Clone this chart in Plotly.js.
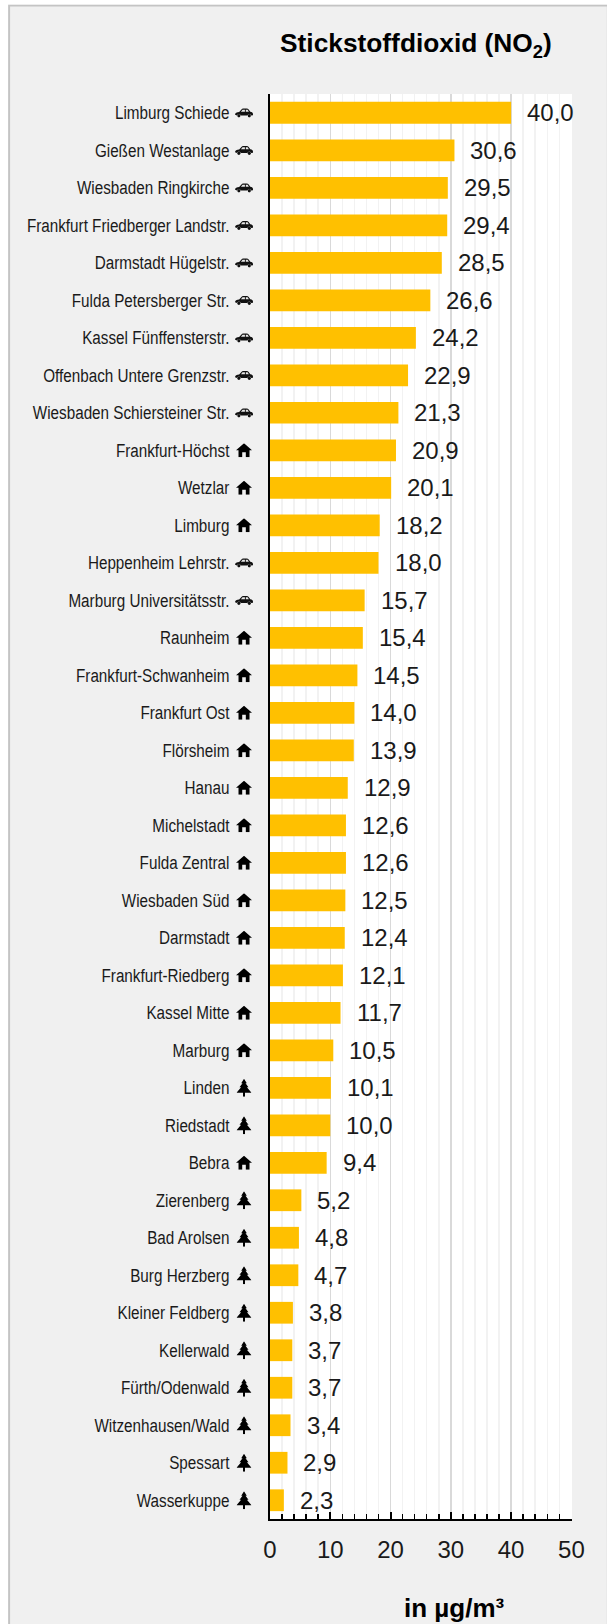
<!DOCTYPE html>
<html><head><meta charset="utf-8">
<script src="https://cdn.plot.ly/plotly-3.0.1.min.js"></script>
<style>html,body{margin:0;padding:0;background:#fff}#c{width:607px;height:1624px}</style>
</head><body><div id="c"></div>
<script>
const stations = ["Limburg Schiede","Gießen Westanlage","Wiesbaden Ringkirche","Frankfurt Friedberger Landstr.","Darmstadt Hügelstr.","Fulda Petersberger Str.","Kassel Fünffensterstr.","Offenbach Untere Grenzstr.","Wiesbaden Schiersteiner Str.","Frankfurt-Höchst","Wetzlar","Limburg","Heppenheim Lehrstr.","Marburg Universitätsstr.","Raunheim","Frankfurt-Schwanheim","Frankfurt Ost","Flörsheim","Hanau","Michelstadt","Fulda Zentral","Wiesbaden Süd","Darmstadt","Frankfurt-Riedberg","Kassel Mitte","Marburg","Linden","Riedstadt","Bebra","Zierenberg","Bad Arolsen","Burg Herzberg","Kleiner Feldberg","Kellerwald","Fürth/Odenwald","Witzenhausen/Wald","Spessart","Wasserkuppe"];
const no2 = [40.0,30.6,29.5,29.4,28.5,26.6,24.2,22.9,21.3,20.9,20.1,18.2,18.0,15.7,15.4,14.5,14.0,13.9,12.9,12.6,12.6,12.5,12.4,12.1,11.7,10.5,10.1,10.0,9.4,5.2,4.8,4.7,3.8,3.7,3.7,3.4,2.9,2.3];
const kinds = ["car","car","car","car","car","car","car","car","car","home","home","home","car","car","home","home","home","home","home","home","home","home","home","home","home","home","tree","tree","home","tree","tree","tree","tree","tree","tree","tree","tree","tree"];
const icons = {
 car:'<svg xmlns="http://www.w3.org/2000/svg" viewBox="0 0 20 10"><path fill="#111" d="M0 7 C0 5 2 4.6 4.6 4.2 L7.4 1.4 C8 .9 9 .8 10 .8 L13 .8 C14 .8 14.6 1.2 15.2 1.8 L17 4 C19 4.4 20 5 20 6.2 L20 7.6 L18 7.8 A2.2 2.2 0 0 0 13.8 7.8 L6.4 7.8 A2.2 2.2 0 0 0 2.2 7.8 Z"/><path fill="#e8e8e8" d="M6.6 4 L8.4 2 L11 2 L11 4 Z M12 2 L14 2 L15.4 4 L12 4 Z"/><circle cx="4.3" cy="8" r="1.7" fill="#111"/><circle cx="15.9" cy="8" r="1.7" fill="#111"/></svg>',
 home:'<svg xmlns="http://www.w3.org/2000/svg" viewBox="0 0 16 14"><path fill="#000" d="M8 0 L16 7 L13.5 7 L13.5 14 L9.8 14 L9.8 9 L6.2 9 L6.2 14 L2.5 14 L2.5 7 L0 7 Z"/></svg>',
 tree:'<svg xmlns="http://www.w3.org/2000/svg" viewBox="0 0 15 18"><path fill="#000" d="M7.5 0 L10.3 4.4 L9 4.4 L12 8.6 L10.4 8.6 L15 14 L8.5 14 L8.5 18 L6.5 18 L6.5 14 L0 14 L4.6 8.6 L3 8.6 L6 4.4 L4.7 4.4 Z"/></svg>'
};
const iconSize = {car:[18,10],home:[16,14],tree:[15,18]};
const L=270,R=572.1,T=94,B=1519,W=607,H=1624;
const px = v => (v-L)/(R-L);
const py = v => (B-v)/(B-T);
const images = stations.map((s,i)=>{
  const k=kinds[i], sz=iconSize[k];
  return {source:'data:image/svg+xml;utf8,'+encodeURIComponent(icons[k]),xref:'paper',yref:'y',
    x:px(244),y:s,sizex:sz[0]/(R-L),sizey:sz[1]/((B-T)/stations.length),sizing:'stretch',
    xanchor:'center',yanchor:'middle',layer:'above'};
});
const valueLabels = stations.map((s,i)=>({x:no2[i],y:s,xref:'x',yref:'y',text:no2[i].toFixed(1).replace('.',','),
  showarrow:false,xanchor:'left',yanchor:'middle',xshift:14,font:{family:'"Liberation Sans",Arial,sans-serif',size:24,color:'#1a1a1a'}}));
valueLabels.push({xref:'paper',yref:'paper',x:px(455),y:py(1608),text:'<b>in µg/m³</b>',showarrow:false,xanchor:'center',yanchor:'middle',font:{size:26,color:'#000'}});
const layout = {
  width:W,height:H,margin:{l:L,r:W-R,t:T,b:H-B,pad:0},
  paper_bgcolor:'#f0f0f0',plot_bgcolor:'#ffffff',showlegend:false,bargap:0.42,
  font:{family:'"Liberation Sans",Arial,sans-serif',color:'#1a1a1a'},
  title:{text:'<b>Stickstoffdioxid (NO<sub>2</sub>)</b>',font:{size:26.3,color:'#000'},xref:'paper',x:px(416),xanchor:'center',yref:'container',y:1-43/H,yanchor:'middle'},
  xaxis:{range:[0,50.1],tick0:0,dtick:10,ticks:'inside',ticklen:7,tickwidth:2,tickcolor:'#000',
    showline:true,linecolor:'#000',linewidth:2,gridcolor:'#d9d9d9',gridwidth:1.5,zeroline:false,
    tickfont:{size:24,color:'#1a1a1a'},ticklabelstandoff:8,
    minor:{dtick:2,tick0:0,showgrid:true,gridcolor:'#f2f2f2',gridwidth:1.5,ticks:'inside',ticklen:5,tickwidth:1.5,tickcolor:'#000'}},
  yaxis:{type:'category',categoryorder:'array',categoryarray:stations,autorange:false,range:[stations.length-0.5,-0.5],
    showline:true,linecolor:'#000',linewidth:2,ticks:'',showgrid:false,
    tickfont:{size:18,color:'#1a1a1a'},ticklabelstandoff:35,automargin:false},
  images:images,annotations:valueLabels,
  shapes:[{type:'rect',xref:'paper',yref:'paper',x0:px(9),x1:px(608),y0:py(5.5),y1:py(1625),line:{color:'#c4c4c4',width:2},fillcolor:'rgba(0,0,0,0)',layer:'above'},
          {type:'rect',xref:'paper',yref:'paper',x0:px(-2),x1:px(8),y0:py(-2),y1:py(1626),line:{width:0},fillcolor:'#fff',layer:'above'},
          {type:'rect',xref:'paper',yref:'paper',x0:px(-2),x1:px(609),y0:py(-2),y1:py(4.5),line:{width:0},fillcolor:'#fff',layer:'above'}]
};
const gd=document.getElementById('c');
Plotly.newPlot(gd,[{type:'bar',orientation:'h',x:no2,y:stations,marker:{color:'#ffc000',line:{width:0}},hoverinfo:'skip'}],layout,{displayModeBar:false,staticPlot:true}).then(()=>{
  // The reference's station labels are a horizontally condensed sans: tall glyphs, narrow set width.
  gd.querySelectorAll('.ytick text').forEach(t=>{
    t.setAttribute('textLength',(t.getComputedTextLength()*0.847).toFixed(1));
    t.setAttribute('lengthAdjust','spacingAndGlyphs');
  });
});
</script></body></html>
